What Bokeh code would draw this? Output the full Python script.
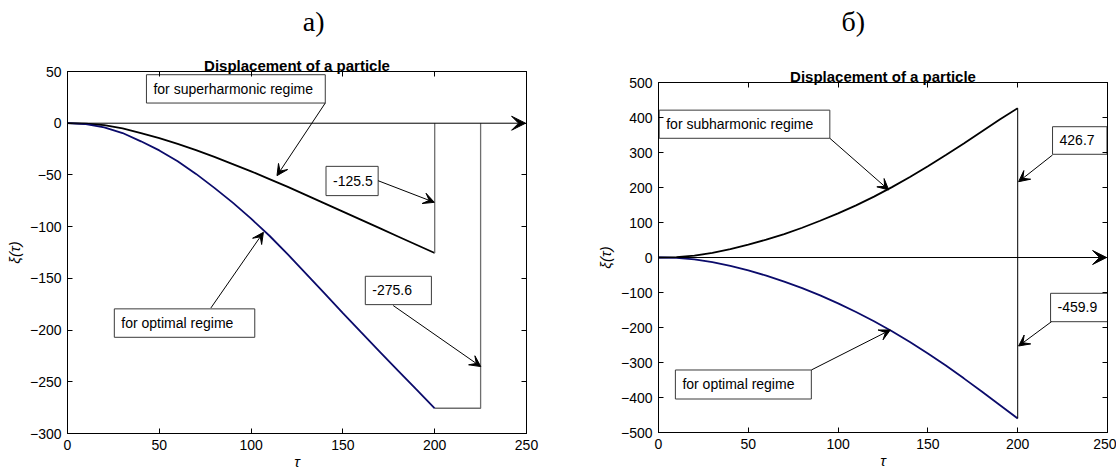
from bokeh.plotting import figure
from bokeh.layouts import row
from bokeh.models import (Range1d, LinearAxis, FixedTicker, Arrow, VeeHead, Title,
                          ColumnDataSource, CustomJSTickFormatter)
from bokeh.core.properties import value
from bokeh.embed import file_html
from bokeh.resources import INLINE

# ---------------- data ----------------
tau = [0, 10, 20, 30, 40, 50, 60, 70, 80, 90, 100, 110, 120, 130, 140, 150, 160, 170, 180, 190, 200]

# panel a)
xi_superharmonic = [0, -0.5, -1.8, -5, -9.5, -14.5, -20, -26, -32.5, -39.5, -46.5, -54, -61.5,
                    -69.5, -77.5, -85.5, -93.5, -101.5, -109.5, -117.5, -125.5]
xi_optimal_a = [0, -0.8, -4, -9.5, -17.5, -26.3, -36.8, -49, -62.5, -76.8, -92.3, -108.8, -126.8,
                -145.6, -164.6, -183.6, -202.3, -220.8, -239.1, -257.4, -275.6]
tau_return_optimal_a = 225

# panel б)
xi_subharmonic = [0, 1, 5.5, 13, 24, 37, 51, 67, 85, 105, 126, 149, 174, 201, 230, 261, 293, 326,
                  360, 394, 426.7]
xi_optimal_b = [0, -1, -5.4, -13.3, -24.2, -37, -51.9, -68.7, -87.4, -108.2, -130.9, -155.6,
                -182.3, -210.9, -241.6, -274.2, -308.7, -345.3, -382.8, -421.4, -459.9]

x_ticks = [0, 50, 100, 150, 200, 250]
y_ticks_a = [50, 0, -50, -100, -150, -200, -250, -300]
y_ticks_b = [500, 400, 300, 200, 100, 0, -100, -200, -300, -400, -500]

# annotations: text, box (left, right, bottom, top), arrow tail, arrow tip (data units)
notes_a = [
    ("for superharmonic regime", (43.0, 140.4, 19.5, 46.9), (140.4, 19.5), (114.1, -50.7)),
    ("-125.5", (140.8, 169.2, -70.0, -41.7), (169.2, -55.6), (199.8, -76.5)),
    ("-275.6", (162.2, 198.2, -175.4, -148.0), (177.4, -176.3), (225.1, -235.3)),
    ("for optimal regime", (25.5, 102.0, -207.0, -179.5), (78.1, -178.6), (106.7, -105.5)),
]
notes_b = [
    ("for subharmonic regime", (0.4, 95.4, 340.6, 421.0), (95.4, 340.6), (128.2, 193.0)),
    ("426.7", (219.4, 249.7, 294.9, 373.7), (219.4, 292.9), (200.5, 216.6)),
    ("-459.9", (218.3, 250.0, -183.4, -102.3), (218.8, -183.4), (200.5, -252.9)),
    ("for optimal regime", (9.4, 85.1, -404.3, -321.4), (85.1, -321.4), (129.1, -207.0)),
]

FONT = "Liberation Sans"
NAVY = "#0b0b6b"


def make_panel(width, borders, y_lo, y_hi, y_ticks, letter_js, letter_x, letter_standoff):
    bl, br, bt, bb = borders
    p = figure(width=width, height=475, x_range=Range1d(0, 250), y_range=Range1d(y_lo, y_hi),
               output_backend="svg", toolbar_location=None, title=None, frame_align=False,
               min_border_left=bl, min_border_right=br, min_border_top=bt, min_border_bottom=bb)
    p.xgrid.visible = False
    p.ygrid.visible = False
    p.outline_line_color = "black"
    p.outline_line_width = 1
    p.background_fill_color = "white"
    p.border_fill_color = "white"

    for ax, ticks in ((p.xaxis[0], x_ticks), (p.yaxis[0], y_ticks)):
        ax.ticker = FixedTicker(ticks=ticks)
        ax.major_tick_in = 5
        ax.major_tick_out = 0
        ax.minor_tick_line_color = None
        ax.axis_line_color = "black"
        ax.major_label_text_font = FONT
        ax.major_label_text_font_size = "14px"
        ax.major_label_text_color = "black"
        ax.axis_label_text_font = FONT
        ax.axis_label_text_font_size = "15px"
        ax.axis_label_text_font_style = "italic"
        ax.axis_label_text_color = "black"
    p.xaxis.major_label_standoff = 6
    p.yaxis.major_label_standoff = 6
    p.xaxis.axis_label = "τ"
    p.yaxis.axis_label = "ξ(τ)"
    p.xaxis.axis_label_standoff = 0
    p.yaxis.axis_label_standoff = 4

    empty = CustomJSTickFormatter(code="return ''")
    top = LinearAxis(ticker=FixedTicker(ticks=x_ticks), formatter=empty, major_tick_in=5,
                     major_tick_out=0, minor_tick_line_color=None, major_label_standoff=0)
    right = LinearAxis(ticker=FixedTicker(ticks=y_ticks), formatter=empty, major_tick_in=5,
                       major_tick_out=0, minor_tick_line_color=None, major_label_standoff=0)
    p.add_layout(top, "above")
    p.add_layout(right, "right")

    p.add_layout(Title(text="Displacement of a particle", text_font=FONT, text_font_size="15px",
                       text_font_style="bold", align="center", standoff=-4,
                       text_color="black"), "above")
    # sub-figure letter: a label-only axis with one tick at the letter's position
    letter = LinearAxis(ticker=FixedTicker(ticks=[letter_x]),
                        formatter=CustomJSTickFormatter(code=f"return '{letter_js}'"),
                        axis_line_color=None, major_tick_line_color=None,
                        minor_tick_line_color=None, major_tick_in=0, major_tick_out=0,
                        major_label_standoff=letter_standoff,
                        major_label_text_font="Liberation Serif",
                        major_label_text_font_size="28px", major_label_text_color="black")
    p.add_layout(letter, "above")
    return p


def add_notes(p, notes):
    box = ColumnDataSource(dict(
        left=[n[1][0] for n in notes], right=[n[1][1] for n in notes],
        bottom=[n[1][2] for n in notes], top=[n[1][3] for n in notes],
        ty=[(n[1][2] + n[1][3]) / 2 for n in notes], text=[n[0] for n in notes]))
    p.quad(left="left", right="right", bottom="bottom", top="top", source=box,
           fill_color="white", line_color="#3a3a3a", line_width=1)
    p.text(x="left", y="ty", text="text", source=box, x_offset=7, text_font=value(FONT),
           text_font_size="14px", text_align="left", text_baseline="middle", text_color="black")
    arr = ColumnDataSource(dict(
        x0=[n[2][0] for n in notes], y0=[n[2][1] for n in notes],
        x1=[n[3][0] for n in notes], y1=[n[3][1] for n in notes]))
    p.add_layout(Arrow(x_start="x0", y_start="y0", x_end="x1", y_end="y1", source=arr,
                       line_color="black", line_width=1,
                       end=VeeHead(size=11, fill_color="black", line_color="black", line_width=1)))


def zero_axis(p):
    p.add_layout(Arrow(x_start=x_ticks[0], y_start=0, x_end=x_ticks[-1] - 0.5, y_end=0,
                       line_color="black", line_width=1,
                       end=VeeHead(size=14, fill_color="black", line_color="black", line_width=1)))


# ---------------- panel a) ----------------
pa = make_panel(560, (67, 34, 71, 42), -300, 50, y_ticks_a, "\\u0430)", 134.1, 20)
pa.line(tau, xi_superharmonic, line_color="black", line_width=1.8)
pa.line(tau, xi_optimal_a, line_color=NAVY, line_width=1.8)
pa.line([tau[-1], tau[-1]], [xi_superharmonic[-1], 0], line_color="#6e6e6e", line_width=1.3)
pa.line([tau[-1], tau_return_optimal_a, tau_return_optimal_a],
        [xi_optimal_a[-1], xi_optimal_a[-1], 0], line_color="#6e6e6e", line_width=1.3)
zero_axis(pa)
add_notes(pa, notes_a)

# ---------------- panel б) ----------------
pb = make_panel(556, (98, 9, 82, 43), -500, 500, y_ticks_b, "\\u0431)", 108.5, 31)
pb.line(tau, xi_subharmonic, line_color="black", line_width=1.8)
pb.line(tau, xi_optimal_b, line_color=NAVY, line_width=1.8)
pb.line([tau[-1], tau[-1]], [xi_optimal_b[-1], xi_subharmonic[-1]], line_color="black",
        line_width=1)
zero_axis(pb)
add_notes(pb, notes_b)

layout = row(pa, pb)
open("out.html", "w").write(file_html(layout, INLINE))
